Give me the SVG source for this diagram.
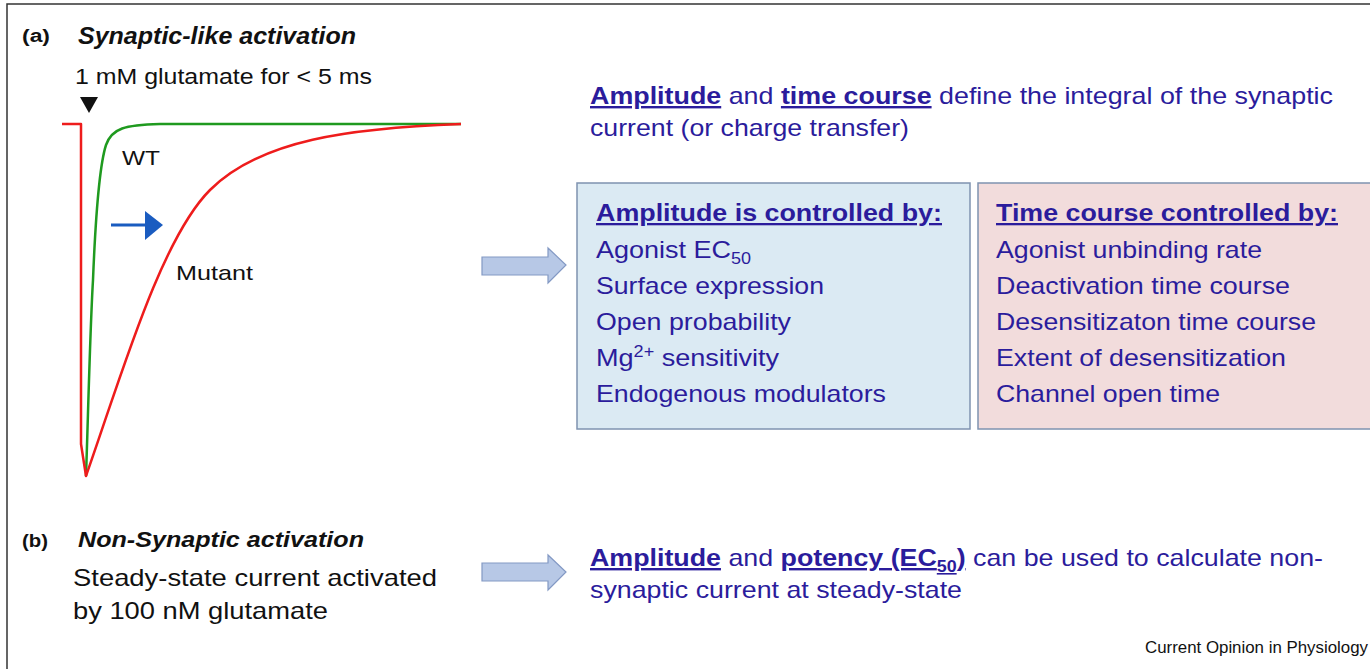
<svg xmlns="http://www.w3.org/2000/svg" width="1370" height="669" viewBox="0 0 1370 669">
<style>
  text { font-family: "Liberation Sans", Arial, sans-serif; }
  .k { fill: #111; }
  .b { fill: #2b1c9c; }
  .hd { font-weight: bold; text-decoration: underline; }
  .box1 { fill: #dbeaf3; stroke: #7f93b0; stroke-width: 1.5; }
  .box2 { fill: #f2dcdc; stroke: #7f93b0; stroke-width: 1.5; }
  .barrow { fill: #b7c8e6; stroke: #8399c4; stroke-width: 1.2; }
  .item { font-size: 24px; }
</style>
<rect x="0" y="0" width="1370" height="669" fill="#fff"/>
<rect x="7" y="4" width="1375" height="680" fill="none" stroke="#333" stroke-width="1.5"/>

<g id="panel-a-labels">
  <text x="22" y="42" class="k" font-size="18" font-weight="bold" textLength="28" lengthAdjust="spacingAndGlyphs">(a)</text>
  <text x="78" y="44" class="k" font-size="23" font-weight="bold" font-style="italic" textLength="278" lengthAdjust="spacingAndGlyphs">Synaptic-like activation</text>
  <text x="75" y="84" class="k" font-size="22" textLength="297" lengthAdjust="spacingAndGlyphs">1 mM glutamate for &lt; 5 ms</text>
  <polygon points="80,97 98,97 89,113" fill="#111"/>
</g>

<g id="traces" fill="none" stroke-width="2.5" stroke-linejoin="round">
  <path d="M86,476 C88,420 90,330 93,280 C95,230 98,170 106,145 C112,128 125,125 160,124 L461,124" stroke="#1f9a1f"/>
  <path d="M62,124 L81,124 L81,444 L86,476 C120,380 160,240 210,190 C260,140 350,128 461,124" stroke="#ee1c1c"/>
  <text x="122" y="165" font-size="21" stroke="none" fill="#111" textLength="38" lengthAdjust="spacingAndGlyphs">WT</text>
  <text x="176" y="280" font-size="21" stroke="none" fill="#111" textLength="77" lengthAdjust="spacingAndGlyphs">Mutant</text>
  <line x1="111" y1="225" x2="147" y2="225" stroke="#1a5cc0" stroke-width="3"/>
  <polygon points="145,211 163,225 145,240" fill="#1a5cc0" stroke="none"/>
</g>

<g id="summary-a">
  <text x="590" y="104" class="b" font-size="24" textLength="743" lengthAdjust="spacingAndGlyphs"><tspan class="hd">Amplitude</tspan> and <tspan class="hd">time course</tspan> define the integral of the synaptic</text>
  <text x="590" y="136" class="b" font-size="24" textLength="319" lengthAdjust="spacingAndGlyphs">current (or charge transfer)</text>
</g>

<g id="connectors">
  <polygon class="barrow" points="482,257 548,257 548,248 566,265 548,283 548,275 482,275"/>
  <polygon class="barrow" points="482,563 548,563 548,555 566,572 548,590 548,581 482,581"/>
</g>

<g id="amplitude-box">
  <rect class="box1" x="577" y="183" width="393" height="246"/>
  <text x="596" y="221" class="b hd" font-size="23" textLength="346" lengthAdjust="spacingAndGlyphs">Amplitude is controlled by:</text>
  <text x="596" y="258" class="b item" textLength="155" lengthAdjust="spacingAndGlyphs">Agonist EC<tspan font-size="16" dy="6">50</tspan></text>
  <text x="596" y="294" class="b item" textLength="228" lengthAdjust="spacingAndGlyphs">Surface expression</text>
  <text x="596" y="330" class="b item" textLength="195" lengthAdjust="spacingAndGlyphs">Open probability</text>
  <text x="596" y="366" class="b item" textLength="183" lengthAdjust="spacingAndGlyphs">Mg<tspan font-size="16" dy="-9">2+</tspan><tspan dy="9"> sensitivity</tspan></text>
  <text x="596" y="402" class="b item" textLength="290" lengthAdjust="spacingAndGlyphs">Endogenous modulators</text>
</g>

<g id="timecourse-box">
  <rect class="box2" x="978" y="183" width="395" height="246"/>
  <text x="996" y="221" class="b hd" font-size="23" textLength="342" lengthAdjust="spacingAndGlyphs">Time course controlled by:</text>
  <text x="996" y="258" class="b item" textLength="266" lengthAdjust="spacingAndGlyphs">Agonist unbinding rate</text>
  <text x="996" y="294" class="b item" textLength="294" lengthAdjust="spacingAndGlyphs">Deactivation time course</text>
  <text x="996" y="330" class="b item" textLength="320" lengthAdjust="spacingAndGlyphs">Desensitizaton time course</text>
  <text x="996" y="366" class="b item" textLength="290" lengthAdjust="spacingAndGlyphs">Extent of desensitization</text>
  <text x="996" y="402" class="b item" textLength="224" lengthAdjust="spacingAndGlyphs">Channel open time</text>
</g>

<g id="panel-b">
  <text x="22" y="547" class="k" font-size="18" font-weight="bold" textLength="26" lengthAdjust="spacingAndGlyphs">(b)</text>
  <text x="78" y="547" class="k" font-size="22" font-weight="bold" font-style="italic" textLength="286" lengthAdjust="spacingAndGlyphs">Non-Synaptic activation</text>
  <text x="73" y="586" class="k" font-size="24" textLength="364" lengthAdjust="spacingAndGlyphs">Steady-state current activated</text>
  <text x="73" y="619" class="k" font-size="24" textLength="255" lengthAdjust="spacingAndGlyphs">by 100 nM glutamate</text>
</g>

<g id="summary-b">
  <text x="590" y="566" class="b" font-size="24" textLength="733" lengthAdjust="spacingAndGlyphs"><tspan class="hd">Amplitude</tspan> and <tspan class="hd">potency (EC<tspan font-size="16" dy="6">50</tspan><tspan dy="-6">)</tspan></tspan> can be used to calculate non-</text>
  <text x="590" y="598" class="b" font-size="24" textLength="372" lengthAdjust="spacingAndGlyphs">synaptic current at steady-state</text>
</g>

<text x="1145" y="653" class="k" font-size="16" textLength="223" lengthAdjust="spacingAndGlyphs">Current Opinion in Physiology</text>
</svg>
